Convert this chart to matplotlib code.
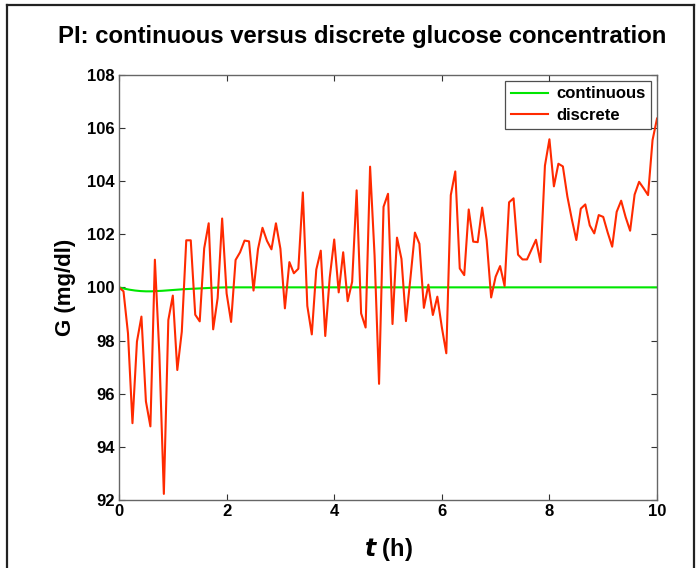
import matplotlib.pyplot as plt
from matplotlib.lines import Line2D
import numpy as np

# sampling every 5 min over 10 h
dt = 1.0 / 12
G_discrete = [100.0, 99.85, 98.27, 94.89, 97.96, 98.9, 95.71, 94.77, 101.04, 97.49,
              92.23, 98.77, 99.69, 96.89, 98.33, 101.77, 101.77, 98.97, 98.72, 101.47,
              102.41, 98.42, 99.6, 102.59, 99.77, 98.7, 101.03, 101.32, 101.76, 101.73,
              99.88, 101.44, 102.24, 101.75, 101.43, 102.41, 101.45, 99.21, 100.95, 100.53,
              100.7, 103.57, 99.3, 98.23, 100.67, 101.38, 98.17, 100.37, 101.8, 99.81,
              101.32, 99.48, 100.21, 103.65, 99.02, 98.49, 104.54, 101.2, 96.37, 103.03,
              103.52, 98.62, 101.87, 101.07, 98.73, 100.35, 102.06, 101.64, 99.23, 100.1,
              98.96, 99.65, 98.5, 97.52, 103.47, 104.36, 100.71, 100.46, 102.93, 101.72,
              101.7, 103.0, 101.78, 99.62, 100.4, 100.8, 100.05, 103.2, 103.35, 101.23,
              101.05, 101.05, 101.42, 101.79, 100.95, 104.58, 105.57, 103.8, 104.65, 104.55,
              103.42, 102.56, 101.78, 102.96, 103.12, 102.33, 102.03, 102.72, 102.65, 102.06,
              101.53, 102.84, 103.26, 102.64, 102.13, 103.49, 103.97, 103.73, 103.47, 105.54,
              106.35]
t_discrete = np.arange(len(G_discrete)) * dt

t_cont = [0, 0.1, 0.2, 0.3, 0.4, 0.5, 0.6, 0.7, 0.8, 1.0, 1.2, 1.4, 1.6, 1.8, 2.0, 10.0]
G_cont = [100, 99.95, 99.91, 99.88, 99.86, 99.85, 99.85, 99.86, 99.87, 99.9, 99.93,
          99.95, 99.97, 99.99, 100, 100]

xticks = [0, 2, 4, 6, 8, 10]
yticks = [92, 94, 96, 98, 100, 102, 104, 106, 108]

plt.rcParams['font.family'] = ['Liberation Sans', 'DejaVu Sans']

fig = plt.figure(figsize=(6.96, 5.68), dpi=100)
ax = fig.add_axes([0.171, 0.1197, 0.773, 0.7488])

ax.plot(t_cont, G_cont, color='#00e600', lw=1.5, label='continuous')
ax.plot(t_discrete, G_discrete, color='#ff2a00', lw=1.5, label='discrete')

ax.set_xlim(0, 10)
ax.set_ylim(92, 108)
ax.set_xticks(xticks)
ax.set_yticks(yticks)
ax.tick_params(direction='in', top=True, right=True, length=4, width=0.8,
               color='#333333', labelsize=12, pad=3)
for lab in ax.get_xticklabels() + ax.get_yticklabels():
    lab.set_fontweight('bold')
for sp in ax.spines.values():
    sp.set_color('#666666')
    sp.set_linewidth(1.0)

fig.text(362 / 696, 1 - 36 / 568, 'PI: continuous versus discrete glucose concentration',
         fontsize=17.2, fontweight='bold', ha='center', va='center')
ax.set_ylabel('G (mg/dl)', fontsize=16, fontweight='bold', labelpad=8)
ax.set_xlabel(r'$\boldsymbol{t}$ (h)', fontsize=17, fontweight='bold', labelpad=12)

leg = ax.legend(loc='upper right', prop={'weight': 'bold', 'size': 12},
                frameon=True, fancybox=False, borderpad=0.35, handlelength=2.2,
                labelspacing=0.4, borderaxespad=0.35, handletextpad=0.5)
leg.get_frame().set_edgecolor('#222222')
leg.get_frame().set_linewidth(0.9)

# figure frame
fc = '#222222'
fig.add_artist(Line2D([0.0105, 0.0105], [-0.1, 0.991], color=fc, lw=1.6))
fig.add_artist(Line2D([0.0105, 0.997], [0.991, 0.991], color=fc, lw=1.6))
fig.add_artist(Line2D([0.997, 0.997], [-0.1, 0.991], color=fc, lw=1.6))

fig.savefig('out.png', dpi=100)
